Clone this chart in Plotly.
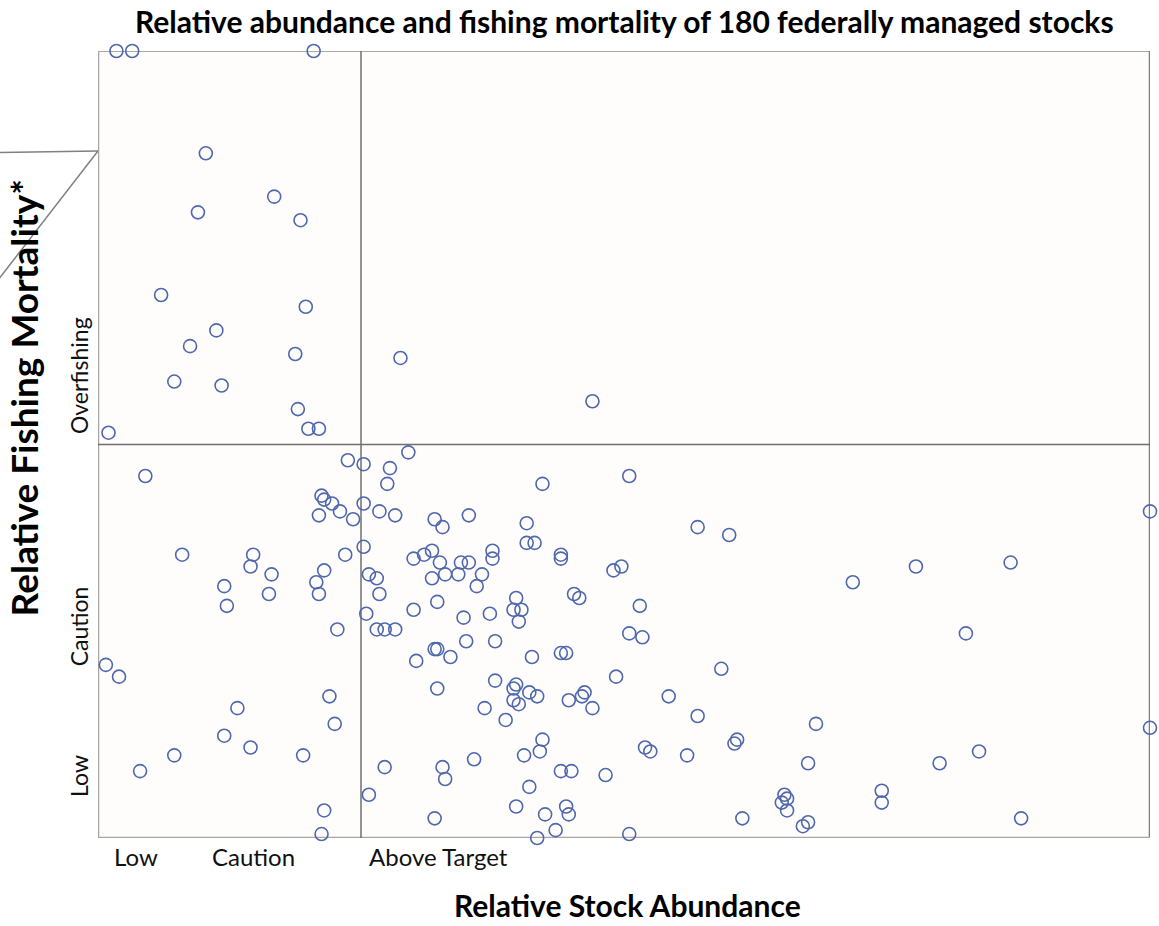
"""
Stock status scatter: relative abundance vs relative fishing mortality
"""

import plotly.graph_objects as go

# B/Bmsy (relative stock abundance), values at 4.0 / F at 2.0 are capped at the axis edge
abundance = [
    0.07, 0.13, 0.82, 0.41, 0.67, 0.38, 0.77, 0.24, 0.79, 0.45,
    0.35, 0.75, 0.29, 0.47, 0.76, 0.80, 0.84, 0.04, 1.15, 1.88,
    0.18, 0.95, 0.85, 0.86, 0.89, 0.84, 0.92, 0.97, 0.94, 0.32,
    0.59, 0.58, 0.66, 0.86, 0.83, 0.84, 0.48, 0.65, 0.49, 0.91,
    0.03, 0.08, 0.88, 0.53, 0.90, 0.48, 0.58, 0.29, 0.78, 0.16,
    0.86, 0.85, 1.01, 1.11, 1.18, 1.10, 1.01, 1.07, 1.13, 1.01,
    1.03, 1.06, 1.07, 1.02, 1.06, 1.09, 1.13, 1.28, 1.31, 1.41,
    1.20, 1.24, 1.27, 1.30, 1.38, 1.41, 1.50, 1.50, 1.32, 1.27,
    1.37, 1.46, 1.44, 1.29, 1.20, 1.39, 1.49, 1.69, 2.02, 2.28,
    1.63, 1.63, 1.66, 1.76, 1.76, 1.96, 1.99, 1.59, 1.58, 1.61,
    1.60, 1.81, 1.83, 2.06, 2.02, 2.07, 1.40, 1.51, 1.28, 1.29,
    1.34, 1.21, 1.65, 1.76, 1.78, 1.97, 2.17, 1.51, 1.58, 1.59,
    1.58, 1.60, 1.64, 1.67, 1.79, 1.84, 1.85, 1.88, 1.29, 1.47,
    1.55, 2.28, 1.69, 1.62, 1.68, 2.08, 2.10, 2.24, 1.76, 1.80,
    1.93, 1.64, 1.59, 1.70, 1.78, 1.79, 1.74, 1.67, 2.02, 1.31,
    1.32, 1.43, 1.09, 1.03, 1.28, 2.40, 2.87, 3.11, 3.47, 4.00,
    3.30, 2.37, 2.73, 4.00, 2.42, 2.43, 2.70, 3.20, 3.35, 2.61,
    2.62, 2.60, 2.62, 2.98, 2.98, 2.45, 2.68, 2.70, 3.51,
]

# F/Fmsy (relative fishing mortality)
mortality = [
    2.00, 2.00, 2.00, 1.74, 1.63, 1.59, 1.57, 1.38, 1.35, 1.29,
    1.25, 1.23, 1.16, 1.15, 1.09, 1.04, 1.04, 1.03, 1.22, 1.11,
    0.92, 0.96, 0.87, 0.86, 0.85, 0.82, 0.83, 0.81, 0.72, 0.72,
    0.72, 0.69, 0.67, 0.68, 0.65, 0.62, 0.64, 0.62, 0.59, 0.53,
    0.44, 0.41, 0.36, 0.33, 0.29, 0.26, 0.23, 0.21, 0.21, 0.17,
    0.07, 0.01, 0.95, 0.94, 0.98, 0.90, 0.85, 0.83, 0.82, 0.74,
    0.67, 0.66, 0.62, 0.57, 0.53, 0.53, 0.53, 0.81, 0.79, 0.82,
    0.71, 0.72, 0.73, 0.70, 0.70, 0.70, 0.73, 0.71, 0.67, 0.66,
    0.67, 0.67, 0.64, 0.60, 0.58, 0.56, 0.57, 0.90, 0.92, 0.79,
    0.80, 0.75, 0.75, 0.72, 0.71, 0.68, 0.69, 0.61, 0.58, 0.58,
    0.55, 0.62, 0.61, 0.59, 0.52, 0.51, 0.50, 0.50, 0.48, 0.48,
    0.46, 0.45, 0.46, 0.47, 0.47, 0.41, 0.36, 0.40, 0.38, 0.39,
    0.35, 0.34, 0.37, 0.36, 0.35, 0.36, 0.37, 0.33, 0.38, 0.33,
    0.30, 0.31, 0.25, 0.21, 0.22, 0.23, 0.22, 0.21, 0.17, 0.17,
    0.16, 0.13, 0.08, 0.06, 0.08, 0.06, 0.02, 0.00, 0.01, 0.18,
    0.15, 0.20, 0.18, 0.11, 0.05, 0.77, 0.65, 0.69, 0.70, 0.83,
    0.52, 0.43, 0.29, 0.28, 0.24, 0.25, 0.19, 0.19, 0.22, 0.11,
    0.10, 0.09, 0.07, 0.12, 0.09, 0.05, 0.03, 0.04, 0.05,
]

x_zones = ['Low', 'Caution', 'Above Target']
x_zone_pos = [0.013, 0.106, 0.256]      # paper x, left edge of label
y_zones = ['Overfishing', 'Caution', 'Low']
y_zone_pos = [0.587, 0.269, 0.079]      # paper y, centre of label

FONT = 'Lato'
MARKER_COLOR = '#4f68ad'

fig = go.Figure()

fig.add_trace(go.Scatter(
    x=abundance,
    y=mortality,
    mode='markers',
    marker=dict(symbol='circle-open', size=13, color=MARKER_COLOR,
                line=dict(width=1.6, color=MARKER_COLOR)),
    cliponaxis=False,
    hoverinfo='x+y',
))

shapes = [
    # frame
    dict(type='line', xref='x', yref='y', x0=0, x1=4, y0=2, y1=2,
         line=dict(color='#8c8c8c', width=1.5)),
    dict(type='line', xref='x', yref='y', x0=4, x1=4, y0=0, y1=2,
         line=dict(color='#7f7f7f', width=2.5)),
    dict(type='line', xref='x', yref='y', x0=0, x1=0, y0=0, y1=2,
         line=dict(color='#aaa5a0', width=2.5)),
    dict(type='line', xref='x', yref='y', x0=0, x1=4, y0=0, y1=0,
         line=dict(color='#aaa5a0', width=2.5)),
    # target reference lines
    dict(type='line', xref='x', yref='y', x0=1, x1=1, y0=0, y1=2,
         line=dict(color='#6f6f6f', width=1.5)),
    dict(type='line', xref='x', yref='y', x0=0, x1=4, y0=1, y1=1,
         line=dict(color='#6f6f6f', width=1.5)),
    # callout lines running off the left edge
    dict(type='line', xref='paper', yref='paper', x0=-0.095, y0=0.871, x1=0, y1=0.873,
         line=dict(color='#808080', width=1.5)),
    dict(type='line', xref='paper', yref='paper', x0=0, y0=0.873, x1=-0.095, y1=0.709,
         line=dict(color='#808080', width=1.5)),
]
for s in shapes:
    s['layer'] = 'below'

annotations = []
for label, pos in zip(x_zones, x_zone_pos):
    annotations.append(dict(
        text=label, xref='paper', yref='paper', x=pos, y=-0.024,
        xanchor='left', yanchor='middle', showarrow=False,
        font=dict(family=FONT, size=24, color='#111111'),
    ))
for label, pos in zip(y_zones, y_zone_pos):
    annotations.append(dict(
        text=label, xref='paper', yref='paper', x=-0.018, y=pos,
        xanchor='center', yanchor='middle', textangle=-90, showarrow=False,
        font=dict(family=FONT, size=23, color='#111111'),
    ))

annotations.append(dict(
    text='<b>Relative Stock Abundance</b>', xref='paper', yref='paper',
    x=0.503, y=-0.085, xanchor='center', yanchor='middle', showarrow=False,
    font=dict(family=FONT, size=30, color='#000000'),
))
annotations.append(dict(
    text='<b>Relative Fishing Mortality*</b>', xref='paper', yref='paper',
    x=-0.071, y=0.559, xanchor='center', yanchor='middle', textangle=-90,
    showarrow=False, font=dict(family=FONT, size=37, color='#000000'),
))
annotations.append(dict(
    text='<b>Relative abundance and fishing mortality of 180 federally managed stocks</b>',
    xref='paper', yref='paper', x=0.5, y=1.0, xanchor='center', yanchor='middle',
    yshift=30, showarrow=False, font=dict(family=FONT, size=30, color='#000000'),
))

fig.update_layout(
    width=1159,
    height=926,
    margin=dict(l=98, r=9, t=51, b=88),
    paper_bgcolor='#ffffff',
    plot_bgcolor='#fefdfb',
    showlegend=False,
    shapes=shapes,
    annotations=annotations,
    xaxis=dict(range=[0, 4], showgrid=False, zeroline=False, showticklabels=False,
               showline=False, ticks='', fixedrange=True),
    yaxis=dict(range=[0, 2], showgrid=False, zeroline=False, showticklabels=False,
               showline=False, ticks='', fixedrange=True),
)

# page body has an 8px default margin; drop it so the figure sits at the window origin
fig.write_html("out.html", config={'displayModeBar': False},
               post_script="document.body.style.margin='0';")
